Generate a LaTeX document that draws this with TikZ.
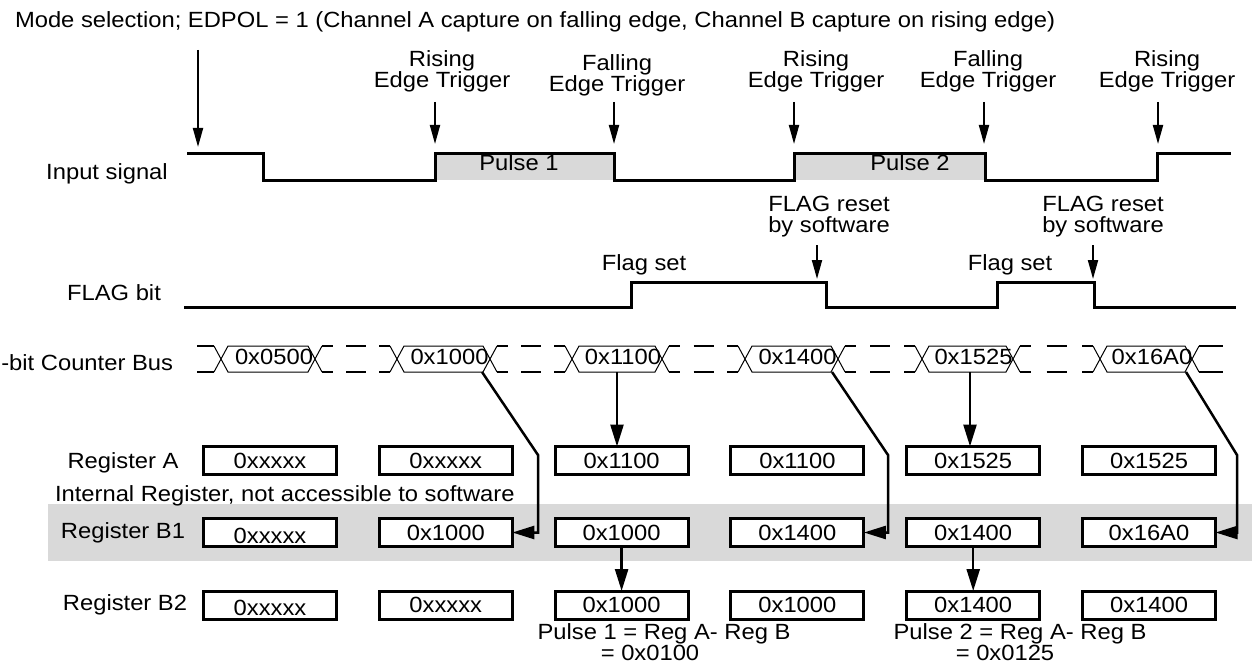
\documentclass[tikz,border=0pt]{standalone}
\usepackage{fontspec}
\setmainfont{Liberation Sans}[FakeStretch=1.08]
\usetikzlibrary{arrows.meta}
\definecolor{bandgray}{RGB}{217,217,217}
\begin{document}
\begin{tikzpicture}[x=1pt,y=-1pt,
  txt/.style={font={\fontsize{22}{21}\selectfont\lineskiplimit=-50pt\relax}, inner sep=0pt, outer sep=0pt},
  wave/.style={line width=3pt, line join=miter},
  arr/.style={line width=2pt, -{Triangle[length=19pt,width=10pt]}},
  regarr/.style={line width=2.5pt, -{Triangle[length=22pt,width=13pt]}},
  reg/.style={draw, fill=white, line width=3pt, minimum width=133pt, minimum height=28pt, inner sep=0pt, outer sep=0pt, font={\fontsize{22}{18}\selectfont}},
  thinbus/.style={line width=1pt},
  thickbus/.style={line width=2pt},
]
\useasboundingbox (0,0) rectangle (1252,666);

% title and first arrow
\node[txt, anchor=base west] (title) at (15,28) {Mode selection; EDPOL = 1 (Channel A capture on falling edge, Channel B capture on rising edge)};
\coordinate (m0) at (198,50);
\coordinate (m1) at (198,147);
\draw[arr] (m0) -- (m1);

% input signal
\fill[bandgray] (435,153) rectangle (614,180);
\fill[bandgray] (794,153) rectangle (985,180);
\draw[wave] (187,153) -- (263,153) -- (263,180) -- (435,180) -- (435,153) -- (614,153) -- (614,180) -- (794,180) -- (794,153) -- (985,153) -- (985,180) -- (1157,180) -- (1157,153) -- (1231,153);
\node[txt, anchor=base] (inlbl) at (107,179) {Input signal};
\node[txt, anchor=base] (p1) at (519,170) {Pulse 1};
\node[txt, anchor=base] (p2) at (910,170) {Pulse 2};

% trigger labels and arrows
\node[txt, align=center, anchor=north] (t1) at (442,51) {Rising\\Edge Trigger};
\node[txt, align=center, anchor=north] (t2) at (617,55) {Falling\\Edge Trigger};
\node[txt, align=center, anchor=north] (t3) at (816,51) {Rising\\Edge Trigger};
\node[txt, align=center, anchor=north] (t4) at (988,51) {Falling\\Edge Trigger};
\node[txt, align=center, anchor=north] (t5) at (1167,51) {Rising\\Edge Trigger};
\foreach \x [count=\i] in {435,614,794,984,1158} {
  \coordinate (ta\i) at (\x,102);
  \coordinate (tb\i) at (\x,144);
  \draw[arr] (ta\i) -- (tb\i);
}

% FLAG bit
\draw[wave] (184,307) -- (631,307) -- (631,282) -- (826,282) -- (826,307) -- (997,307) -- (997,282) -- (1094,282) -- (1094,307) -- (1236,307);
\node[txt, anchor=base] (flbl) at (114,300) {FLAG bit};
\node[txt, anchor=base] (fs1) at (644,270) {Flag set};
\node[txt, anchor=base] (fs2) at (1010,270) {Flag set};
\node[txt, align=center, anchor=north] (fr1) at (829,196) {FLAG reset\\by software};
\node[txt, align=center, anchor=north] (fr2) at (1103,196) {FLAG reset\\by software};
\coordinate (fa1) at (817,245);
\coordinate (fb1) at (817,279);
\coordinate (fa2) at (1093,245);
\coordinate (fb2) at (1093,279);
\draw[arr] (fa1) -- (fb1);
\draw[arr] (fa2) -- (fb2);

% counter bus
\node[txt, anchor=base east] (buslbl) at (173,370) {-bit Counter Bus};
\foreach \l/\r/\v [count=\i] in {221/315/0x0500, 397/490/0x1000, 572/662/0x1100, 745/838/0x1400, 922/1013/0x1525, 1100/1192/0x16A0} {
  \draw[thinbus] (\l,359) -- (\l+7,346) -- (\r-7,346) -- (\r,359) -- (\r-7,372) -- (\l+7,372) -- cycle;
  \draw[thinbus] (\l-7,346) -- (\l,359) -- (\l-7,372);
  \draw[thinbus] (\r+7,346) -- (\r,359) -- (\r+7,372);
  \node[txt, anchor=base] (bus\i) at ({(\l+\r)/2+6},364) {\v};
}
\foreach \y in {346,372} {
  \draw[thickbus] (197,\y) -- (214,\y);
  \draw[thickbus] (1199,\y) -- (1223,\y);
  \foreach \a/\b in {315/397, 490/572, 662/745, 838/922, 1013/1100} {
    \draw[thickbus] (\a+7,\y) -- (\a+18,\y);
    \draw[thickbus] ({(\a+\b)/2-10},\y) -- ({(\a+\b)/2+10},\y);
    \draw[thickbus] (\b-18,\y) -- (\b-7,\y);
  }
}

% internal register band
\fill[bandgray] (48,504) rectangle (1252,561);
\node[txt, anchor=base west] (intl) at (55,501) {Internal Register, not accessible to software};

% registers
\node[txt, anchor=base] (rA) at (123,468) {Register A};
\node[txt, anchor=base] (rB1) at (123,538) {Register B1};
\node[txt, anchor=base] (rB2) at (125,610) {Register B2};
\foreach \t [count=\i] in {0xxxxx,0xxxxx,0x1100,0x1100,0x1525,0x1525}
  \node[reg] (A\i) at ({270+175.8*(\i-1)},460.5) {\t};
\foreach \t [count=\i] in {{\raisebox{-3pt}[\height][0pt]{0xxxxx}},0x1000,0x1000,0x1400,0x1400,0x16A0}
  \node[reg] (B1\i) at ({270+175.8*(\i-1)},532.5) {\t};
\foreach \t [count=\i] in {{\raisebox{-3pt}[\height][0pt]{0xxxxx}},0xxxxx,0x1000,0x1000,0x1400,0x1400}
  \node[reg] (B2\i) at ({270+175.8*(\i-1)},605) {\t};

% bus to register arrows
\coordinate (d2) at (482,372);
\coordinate (k2) at (538,455);
\coordinate (d4) at (832,372);
\coordinate (k4) at (888,455);
\coordinate (d6) at (1186,372);
\coordinate (k6) at (1237,455);
\draw[regarr] (d2) -- (k2) |- (B12.east);
\draw[regarr] (d4) -- (k4) |- (B14.east);
\draw[regarr] (d6) -- (k6) |- (B16.east);
\coordinate (v3) at (617,372);
\coordinate (v5) at (970,372);
\draw[regarr] (v3) -- (v3 |- A3.north);
\draw[regarr] (v5) -- (v5 |- A5.north);
\draw[regarr] (B13.south) -- (B23.north);
\draw[regarr] (B15.south) -- (B25.north);

% pulse formulas
\node[txt, align=center, anchor=north] (f1) at (664,624) {Pulse 1 = Reg A- Reg B\\\hspace*{-28pt}= 0x0100};
\node[txt, align=center, anchor=north] (f2) at (1020,624) {Pulse 2 = Reg A- Reg B\\\hspace*{-30pt}= 0x0125};
\end{tikzpicture}
\end{document}
